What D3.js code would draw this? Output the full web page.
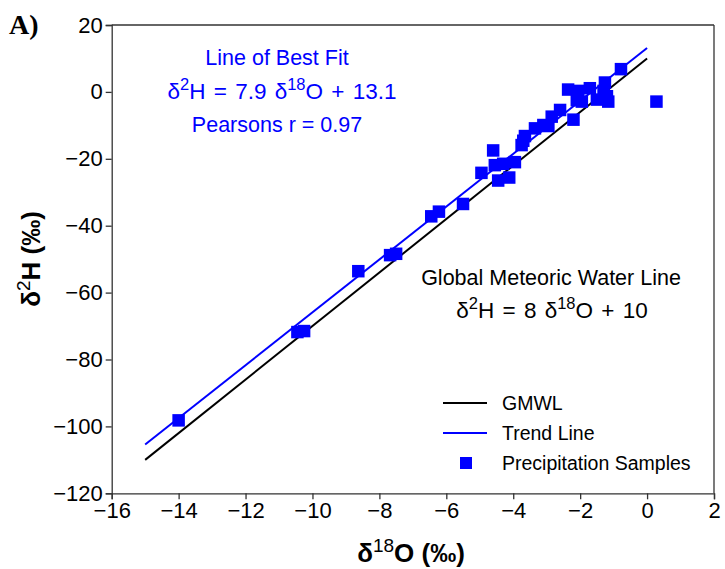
<!DOCTYPE html>
<html><head><meta charset="utf-8">
<script src="https://cdn.jsdelivr.net/npm/d3@7/dist/d3.min.js"></script>
<style>
body{margin:0;background:#fff;}
text{font-family:"Liberation Sans",Arial,sans-serif;}
</style></head>
<body><svg id="c" width="725" height="569"></svg>
<script>
const d18O = [-14.0,-10.45,-10.25,-8.63,-7.68,-7.5,-6.45,-6.22,-5.5,-4.95,-4.6,-4.55,-4.45,-4.3,-4.12,-3.95,-3.75,-3.65,-3.7,-3.35,-3.1,-2.95,-2.85,-2.6,-2.2,-2.36,-2.1,-2.06,-1.95,-1.71,-1.5,-1.26,-1.2,-1.16,-1.3,-0.78,0.28];
const d2H  = [-98.2,-71.8,-71.5,-53.6,-48.8,-48.4,-37.2,-35.8,-33.5,-24.2,-17.5,-21.9,-26.5,-21.5,-25.6,-21.0,-15.9,-13.2,-14.6,-10.9,-9.9,-10.2,-7.4,-5.4,-8.3,0.7,-2.5,0.3,-2.9,1.1,-2.3,2.8,-1.3,-2.9,0.3,6.8,-2.9];
const xTicks = [-16,-14,-12,-10,-8,-6,-4,-2,0,2];
const yTicks = [20,0,-20,-40,-60,-80,-100,-120];
const lineRange = [-15, 0];
const gmwl = {slope: 8, intercept: 10};
const trend = {slope: 7.9, intercept: 13.1};
const legendItems = ["GMWL","Trend Line","Precipitation Samples"];

const svg = d3.select("#c");
const L=111.7, R=714, T=25, B=493.3;
const x = d3.scaleLinear().domain([-16,2]).range([L,R]);
const y = d3.scaleLinear().domain([-120,20]).range([B,T]);
const BLUE="#0000ff";
const FS=21.5;

// axes
const xa = svg.append("g").attr("transform",`translate(0,${B})`)
  .call(d3.axisBottom(x).tickValues(xTicks).tickSize(6).tickPadding(3).tickFormat(d=>d<0?"\u2212"+(-d):d));
const ya = svg.append("g").attr("transform",`translate(${L},0)`)
  .call(d3.axisLeft(y).tickValues(yTicks).tickSize(6).tickPadding(3).tickFormat(d=>d<0?"\u2212"+(-d):d));
[xa,ya].forEach(a=>{a.selectAll("text").attr("font-size",22).attr("fill","#000").style("font-family","Liberation Sans, Arial");
  a.selectAll("line").attr("stroke","#333").attr("stroke-width",1.3);
  a.select(".domain").attr("stroke","#333").attr("stroke-width",1.3);});
// top and right spines
svg.append("line").attr("x1",L).attr("x2",R).attr("y1",T).attr("y2",T).attr("stroke","#333").attr("stroke-width",1.3);
svg.append("line").attr("x1",R).attr("x2",R).attr("y1",T).attr("y2",B).attr("stroke","#333").attr("stroke-width",1.3);

// lines
function drawLine(p,color){
  svg.append("line").attr("x1",x(lineRange[0])).attr("y1",y(p.slope*lineRange[0]+p.intercept))
    .attr("x2",x(lineRange[1])).attr("y2",y(p.slope*lineRange[1]+p.intercept))
    .attr("stroke",color).attr("stroke-width",2);
}
drawLine(gmwl,"#000");
drawLine(trend,BLUE);

// points
const S=12.5;
svg.append("g").selectAll("rect").data(d18O.map((v,i)=>[v,d2H[i]])).join("rect")
  .attr("x",d=>x(d[0])-S/2).attr("y",d=>y(d[1])-S/2).attr("width",S).attr("height",S).attr("fill",BLUE);

// panel label
svg.append("text").attr("x",9).attr("y",34).text("A)").attr("font-size",28).attr("font-weight","bold")
  .style("font-family","Liberation Serif, Times New Roman, serif");

// axis titles
const xt = svg.append("text").attr("x",411).attr("y",562).attr("text-anchor","middle").attr("font-size",26).attr("font-weight","bold");
xt.append("tspan").text("\u03b4");
xt.append("tspan").text("18").attr("font-size",19).attr("dy",-10).attr("font-weight","normal");
xt.append("tspan").text("O (\u2030)").attr("dy",10);
const yt = svg.append("text").attr("transform","translate(40,259) rotate(-90)").attr("text-anchor","middle").attr("font-size",26).attr("font-weight","bold");
yt.append("tspan").text("\u03b4");
yt.append("tspan").text("2").attr("font-size",19).attr("dy",-10).attr("font-weight","normal");
yt.append("tspan").text("H (\u2030)").attr("dy",10);

// annotations
function eqn(g,cx,cy,parts,color){
  const t=g.append("text").attr("x",cx).attr("y",cy).attr("text-anchor","middle").attr("font-size",22.5).attr("fill",color).attr("word-spacing",2);
  parts.forEach(p=>{
    if(p.sup){t.append("tspan").text(p.t).attr("font-size",16.5).attr("dy",-9);}
    else{t.append("tspan").text(p.t).attr("dy",p.after?9:0);}
  });
}
svg.append("text").attr("x",277).attr("y",65).attr("text-anchor","middle").attr("font-size",FS).attr("fill",BLUE).text("Line of Best Fit");
eqn(svg,282,99,[{t:"\u03b4"},{t:"2",sup:1},{t:"H = 7.9 \u03b4",after:1},{t:"18",sup:1},{t:"O + 13.1",after:1}],BLUE);
svg.append("text").attr("x",277).attr("y",132).attr("text-anchor","middle").attr("font-size",FS).attr("fill",BLUE).text("Pearsons r = 0.97");

svg.append("text").attr("x",551).attr("y",285).attr("text-anchor","middle").attr("font-size",FS).attr("fill","#000").text("Global Meteoric Water Line");
eqn(svg,552,318,[{t:"\u03b4"},{t:"2",sup:1},{t:"H = 8 \u03b4",after:1},{t:"18",sup:1},{t:"O + 10",after:1}],"#000");

// legend
const lg = svg.append("g");
const ly=[403,433,463];
lg.append("line").attr("x1",443).attr("x2",487).attr("y1",ly[0]).attr("y2",ly[0]).attr("stroke","#000").attr("stroke-width",2);
lg.append("line").attr("x1",443).attr("x2",487).attr("y1",ly[1]).attr("y2",ly[1]).attr("stroke",BLUE).attr("stroke-width",2);
lg.append("rect").attr("x",460).attr("y",ly[2]-6).attr("width",12).attr("height",12).attr("fill",BLUE);
legendItems.forEach((s,i)=>lg.append("text").attr("x",502).attr("y",ly[i]+7).attr("font-size",19.5).attr("fill","#000").text(s));
</script></body></html>
